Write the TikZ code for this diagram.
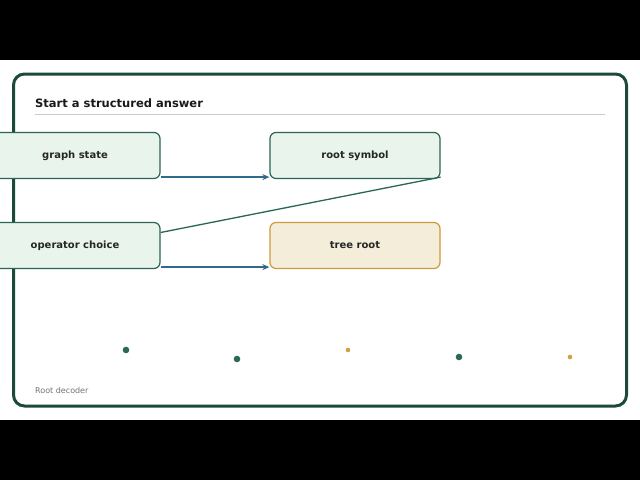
\documentclass[tikz,border=0pt]{standalone}
\usepackage{fontspec}
\setmainfont{DejaVu Sans}
\definecolor{frameG}{HTML}{1C4A3A}
\definecolor{boxG}{HTML}{E8F4EC}
\definecolor{boxGline}{HTML}{2A6652}
\definecolor{boxY}{HTML}{F3EDDA}
\definecolor{boxYline}{HTML}{D09A3C}
\definecolor{arrB}{HTML}{2F6A8C}
\definecolor{dotG}{HTML}{2A6A55}
\definecolor{dotY}{HTML}{D3A040}
\definecolor{sepG}{HTML}{C8CCCC}
\usetikzlibrary{arrows.meta}
\begin{document}
\begin{tikzpicture}[x=1pt,y=-1pt,
  gbox/.style={draw=boxGline,fill=boxG,line width=1.2pt,rounded corners=6pt,minimum width=170pt,minimum height=46pt,inner sep=0pt,font=\bfseries\fontsize{10}{12}\selectfont,text=black!85},
  ybox/.style={gbox,draw=boxYline,fill=boxY},
  flow/.style={draw=arrB,line width=1.4pt,-{Stealth[length=7pt,width=6pt]}},
  link/.style={draw=boxGline,line width=1.3pt}]
\useasboundingbox (0,0) rectangle (640,480);
\fill[black] (0,0) rectangle (640,480);
\fill[white] (0,60) rectangle (640,420);
\draw[frameG,line width=3pt,rounded corners=11pt,fill=white] (13.5,74) rectangle (626.5,406);
\node[anchor=base west,inner sep=0pt,font=\bfseries\fontsize{11.5}{13}\selectfont,text=black!90] (title) at (35,107) {Start a structured answer};
\draw[sepG,line width=0.8pt] (35,114) -- (605,114);
\node[gbox] (gs) at (75,155.5) {graph state};
\node[gbox] (rs) at (355,155.5) {root symbol};
\node[gbox] (oc) at (75,245.5) {operator choice};
\node[ybox] (tr) at (355,245.5) {tree root};
\draw[flow] (gs.south east) ++(0,-2) coordinate (a1) (a1) -- (a1 -| rs.west);
\draw[flow] (oc.south east) ++(0,-2) coordinate (a2) (a2) -- (a2 -| tr.west);
\draw[link] (rs.south east) ++(0,-2) coordinate (b1) (oc.east) ++(0,-13) coordinate (b2) (b1) -- (b2);
\fill[dotG] (126,350) circle (3.3pt);
\fill[dotG] (237,359) circle (3.3pt);
\fill[dotY] (348,350) circle (2.3pt);
\fill[dotG] (459,357) circle (3.3pt);
\fill[dotY] (570,357) circle (2.3pt);
\node[anchor=base west,inner sep=0pt,font=\fontsize{8}{10}\selectfont,text=black!55] (cap) at (35,393) {Root decoder};
\end{tikzpicture}
\end{document}
